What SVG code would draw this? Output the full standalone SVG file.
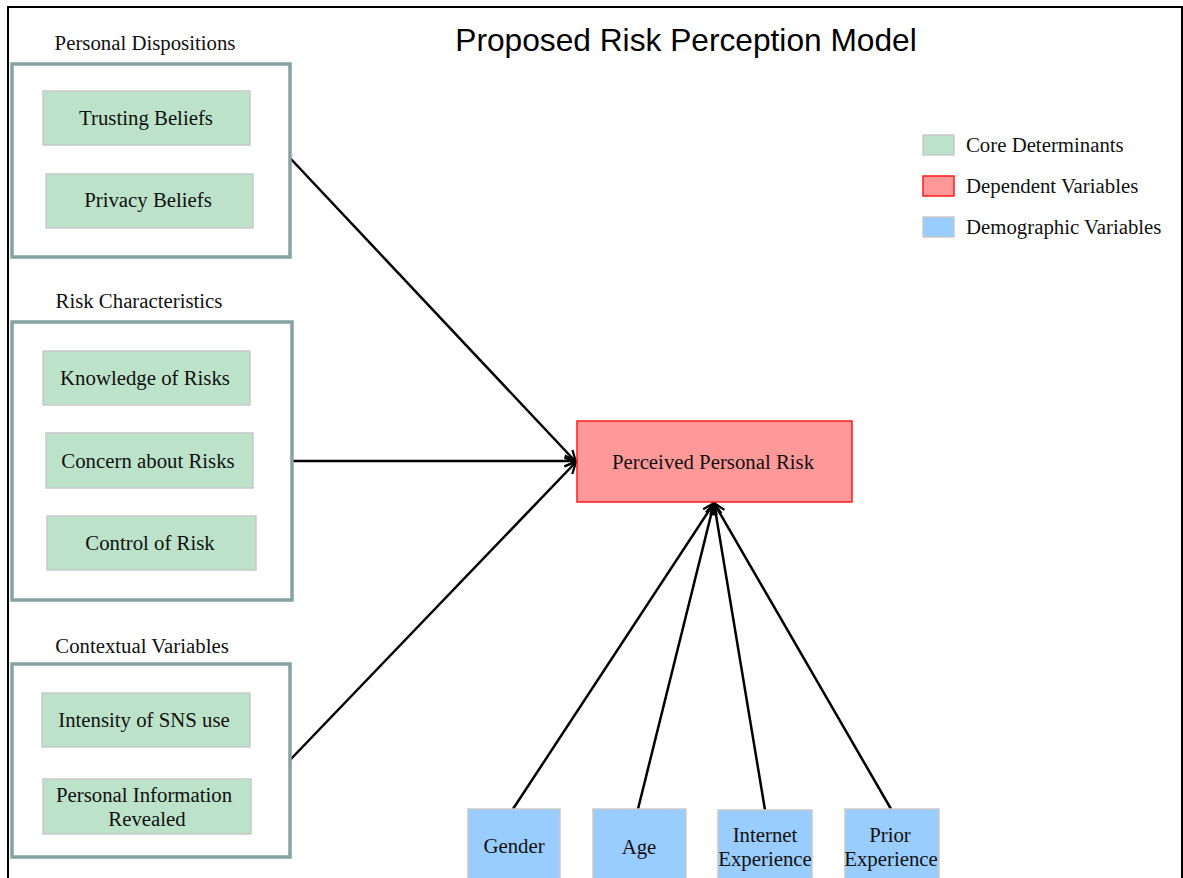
<svg xmlns="http://www.w3.org/2000/svg" width="1183" height="878" viewBox="0 0 1183 878">
  <style>
    .title { font-family: "Liberation Sans", Arial, sans-serif; font-size: 31.7px; fill: #000; }
    .lbl { font-family: "Liberation Serif", "Times New Roman", serif; font-size: 20.8px; fill: #111; }
    .group { fill: #fff; stroke: #88a2a3; stroke-width: 3.5; }
    .core { fill: #bce3c9; stroke: #c9c9c9; stroke-width: 1.5; }
    .dep { fill: #ff9999; stroke: #ff1a1a; stroke-width: 1.5; }
    .demo { fill: #99ccff; stroke: #c9c9c9; stroke-width: 1.5; }
    .edge { stroke: #000; stroke-width: 2.5; fill: none; marker-end: url(#open); }
  </style>
  <defs>
    <marker id="open" viewBox="0 0 20 20" refX="18" refY="10" markerWidth="14" markerHeight="14" markerUnits="userSpaceOnUse" orient="auto" overflow="visible">
      <path d="M2,2 L18,10 L2,18" fill="none" stroke="#000" stroke-width="3.2"/>
    </marker>
  </defs>

  <rect width="1183" height="878" fill="#fff"/>
  <!-- frame -->
  <path d="M8,880 L8,7 L1182,7 L1182,880" fill="none" stroke="#000" stroke-width="2"/>

  <text class="title" x="686" y="51" text-anchor="middle">Proposed Risk Perception Model</text>

  <!-- connectors -->
  <g id="connectors">
    <line class="edge" x1="290" y1="158" x2="576" y2="462"/>
    <line class="edge" x1="292" y1="461" x2="576" y2="461"/>
    <line class="edge" x1="290" y1="760" x2="576" y2="462"/>
    <line class="edge" x1="513" y1="809" x2="714" y2="503"/>
    <line class="edge" x1="638" y1="809" x2="714" y2="503"/>
    <line class="edge" x1="765" y1="810" x2="714" y2="503"/>
    <line class="edge" x1="891" y1="809" x2="714" y2="503"/>
  </g>

  <!-- Personal Dispositions -->
  <g id="personal-dispositions">
    <text class="lbl" x="145" y="50" text-anchor="middle">Personal Dispositions</text>
    <rect class="group" x="12" y="64" width="278" height="193"/>
    <g id="trusting-beliefs">
      <rect class="core" x="43" y="91" width="207" height="54"/>
      <text class="lbl" x="146" y="125" text-anchor="middle">Trusting Beliefs</text>
    </g>
    <g id="privacy-beliefs">
      <rect class="core" x="46" y="174" width="207" height="54"/>
      <text class="lbl" x="148" y="207" text-anchor="middle">Privacy Beliefs</text>
    </g>
  </g>

  <!-- Risk Characteristics -->
  <g id="risk-characteristics">
    <text class="lbl" x="139" y="308" text-anchor="middle">Risk Characteristics</text>
    <rect class="group" x="12" y="322" width="280" height="278"/>
    <g id="knowledge-of-risks">
      <rect class="core" x="43" y="351" width="207" height="54"/>
      <text class="lbl" x="145" y="385" text-anchor="middle">Knowledge of Risks</text>
    </g>
    <g id="concern-about-risks">
      <rect class="core" x="46" y="433" width="207" height="55"/>
      <text class="lbl" x="148" y="468" text-anchor="middle">Concern about Risks</text>
    </g>
    <g id="control-of-risk">
      <rect class="core" x="47" y="516" width="209" height="54"/>
      <text class="lbl" x="150" y="550" text-anchor="middle">Control of Risk</text>
    </g>
  </g>

  <!-- Contextual Variables -->
  <g id="contextual-variables">
    <text class="lbl" x="142" y="653" text-anchor="middle">Contextual Variables</text>
    <rect class="group" x="12" y="664" width="278" height="193"/>
    <g id="intensity-sns">
      <rect class="core" x="42" y="693" width="208" height="54"/>
      <text class="lbl" x="144" y="727" text-anchor="middle">Intensity of SNS use</text>
    </g>
    <g id="personal-info-revealed">
      <rect class="core" x="43" y="779" width="208" height="55"/>
      <text class="lbl" x="144" y="802" text-anchor="middle">Personal Information</text>
      <text class="lbl" x="147" y="826" text-anchor="middle">Revealed</text>
    </g>
  </g>

  <!-- dependent variable -->
  <g id="perceived-personal-risk">
    <rect class="dep" x="577" y="421" width="275" height="81"/>
    <text class="lbl" x="713" y="469" text-anchor="middle">Perceived Personal Risk</text>
  </g>

  <!-- demographic variables -->
  <g id="gender">
    <rect class="demo" x="468" y="809" width="92" height="75"/>
    <text class="lbl" x="514" y="853" text-anchor="middle">Gender</text>
  </g>
  <g id="age">
    <rect class="demo" x="593" y="809" width="93" height="75"/>
    <text class="lbl" x="639" y="854" text-anchor="middle">Age</text>
  </g>
  <g id="internet-experience">
    <rect class="demo" x="718" y="810" width="94" height="75"/>
    <text class="lbl" x="765" y="842" text-anchor="middle">Internet</text>
    <text class="lbl" x="765" y="866" text-anchor="middle">Experience</text>
  </g>
  <g id="prior-experience">
    <rect class="demo" x="845" y="809" width="94" height="75"/>
    <text class="lbl" x="890" y="842" text-anchor="middle">Prior</text>
    <text class="lbl" x="891" y="866" text-anchor="middle">Experience</text>
  </g>

  <!-- legend -->
  <g id="legend">
    <rect class="core" x="923" y="135" width="31" height="20"/>
    <text class="lbl" x="966" y="152">Core Determinants</text>
    <rect class="dep" x="923" y="176" width="31" height="20"/>
    <text class="lbl" x="966" y="193">Dependent Variables</text>
    <rect class="demo" x="923" y="217" width="31" height="20"/>
    <text class="lbl" x="966" y="234">Demographic Variables</text>
  </g>
</svg>
